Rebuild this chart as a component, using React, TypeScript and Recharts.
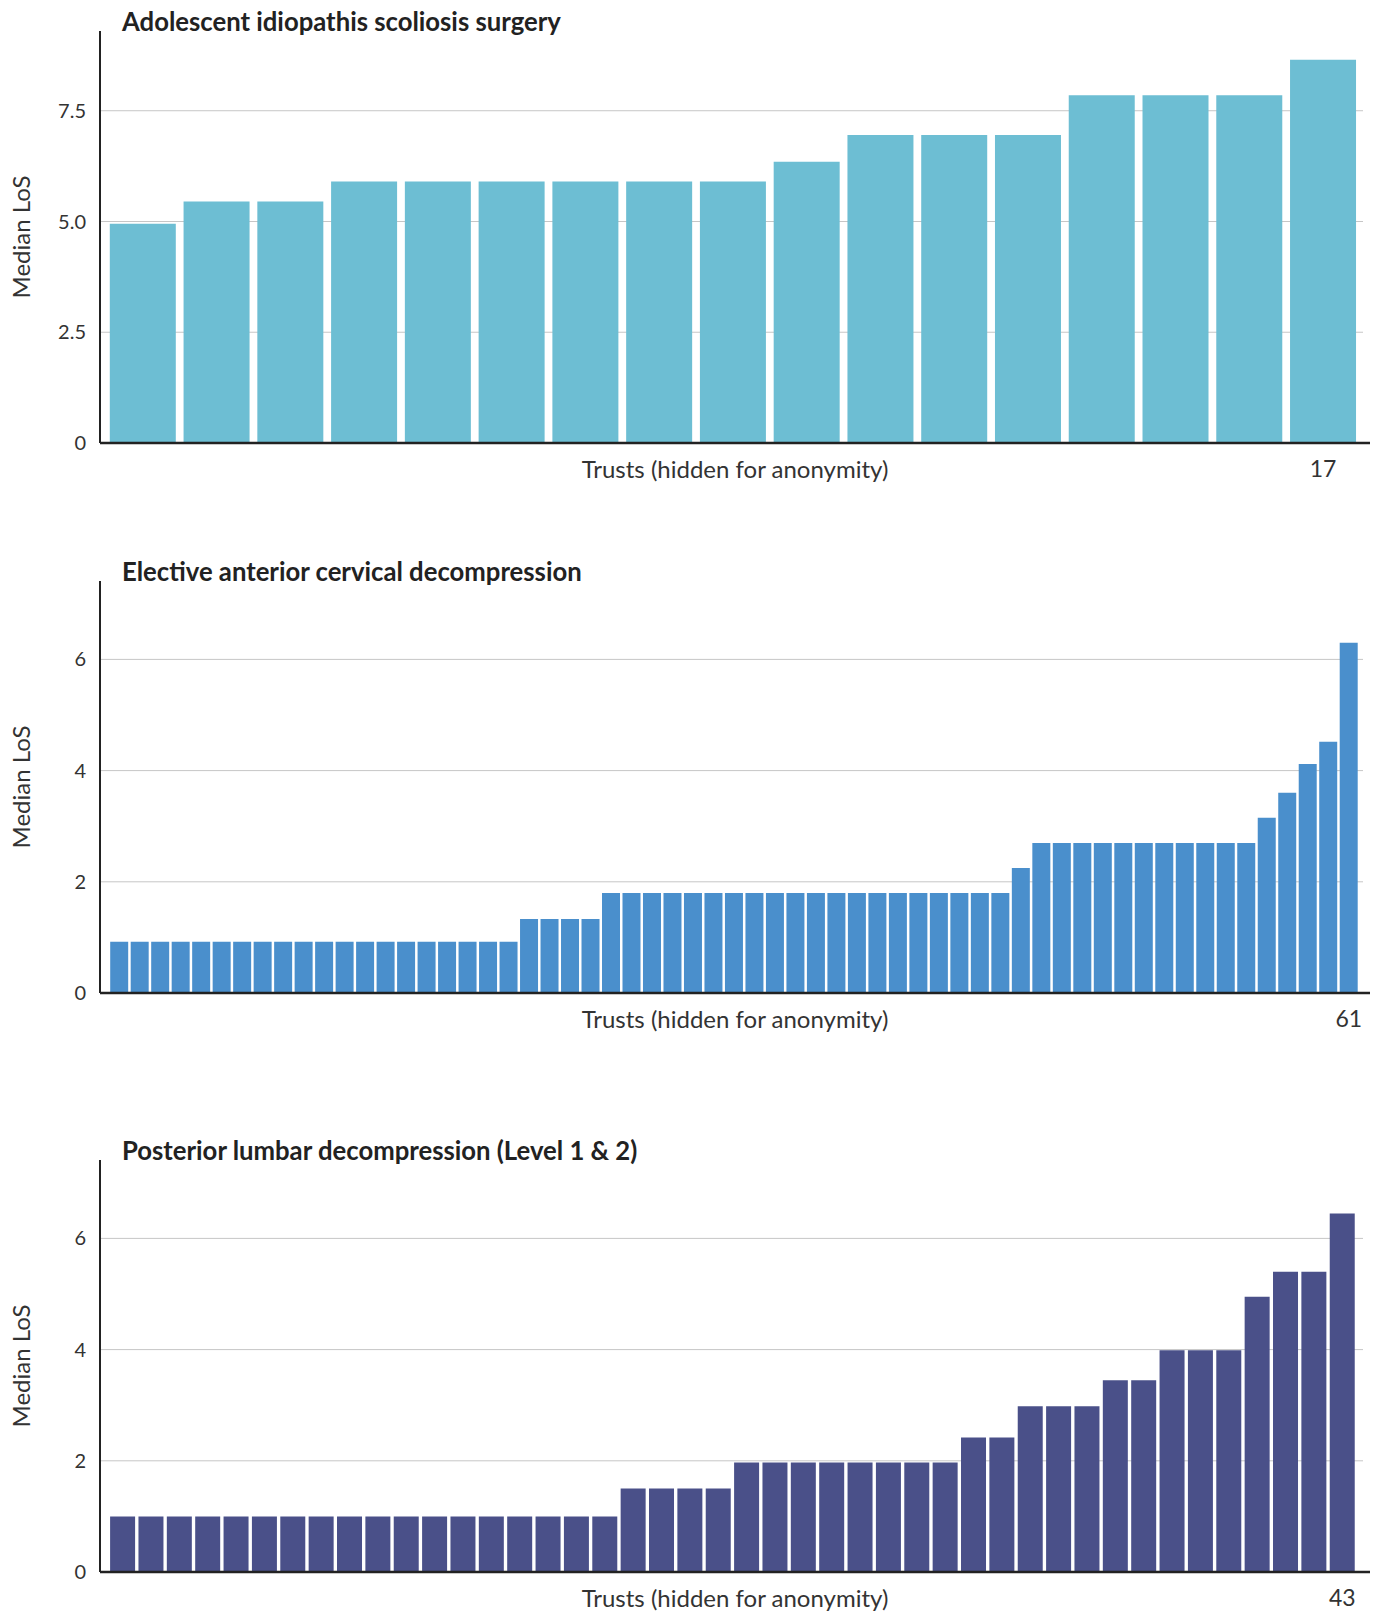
import React from "react";
import { BarChart, Bar, XAxis, YAxis, CartesianGrid, Label } from "recharts";

// median length of stay per trust, sorted ascending
const scoliosisLoS = [
  4.95, 5.45, 5.45, 5.9, 5.9, 5.9, 5.9, 5.9, 5.9, 6.35, 6.95, 6.95, 6.95, 7.85,
  7.85, 7.85, 8.65,
];
const cervicalLoS = [
  0.92, 0.92, 0.92, 0.92, 0.92, 0.92, 0.92, 0.92, 0.92, 0.92, 0.92, 0.92, 0.92,
  0.92, 0.92, 0.92, 0.92, 0.92, 0.92, 0.92, 1.33, 1.33, 1.33, 1.33, 1.8, 1.8,
  1.8, 1.8, 1.8, 1.8, 1.8, 1.8, 1.8, 1.8, 1.8, 1.8, 1.8, 1.8, 1.8, 1.8, 1.8,
  1.8, 1.8, 1.8, 2.25, 2.7, 2.7, 2.7, 2.7, 2.7, 2.7, 2.7, 2.7, 2.7, 2.7, 2.7,
  3.15, 3.6, 4.12, 4.52, 6.3,
];
const lumbarLoS = [
  1.0, 1.0, 1.0, 1.0, 1.0, 1.0, 1.0, 1.0, 1.0, 1.0, 1.0, 1.0, 1.0, 1.0, 1.0,
  1.0, 1.0, 1.0, 1.5, 1.5, 1.5, 1.5, 1.97, 1.97, 1.97, 1.97, 1.97, 1.97, 1.97,
  1.97, 2.42, 2.42, 2.98, 2.98, 2.98, 3.45, 3.45, 3.99, 3.99, 3.99, 4.95, 5.4,
  5.4, 6.45,
];

const chartTitles = [
  "Adolescent idiopathis scoliosis surgery",
  "Elective anterior cervical decompression",
  "Posterior lumbar decompression (Level 1 & 2)",
];
const lastTrustLabels = ["17", "61", "43"];

const scoliosisTicks = [0, 2.5, 5, 7.5];
const scoliosisTickLabels = ["0", "2.5", "5.0", "7.5"];
const otherTicks = [0, 2, 4, 6];
const otherTickLabels = ["0", "2", "4", "6"];

const PLOT_TOP = 31;

type Props = {
  title: string;
  values: number[];
  lastLabel: string;
  color: string;
  yMax: number;
  yTicks: number[];
  yTickLabels: string[];
  padLeft: number;
  padRight: number;
  gap: number;
  top: number;
};

function TrustChart(p: Props) {
  const data = p.values.map((v, i) => ({ trust: String(i + 1), los: v }));
  return (
    <div style={{ position: "absolute", left: 0, top: p.top, width: 1384, height: 483 }}>
      <BarChart
        width={1384}
        height={483}
        data={data}
        margin={{ top: PLOT_TOP, right: 14, left: 0, bottom: 0 }}
        barCategoryGap={p.gap}
      >
        <CartesianGrid
          vertical={false}
          horizontal={(g: any) =>
            g.y1 < PLOT_TOP + 2 ? (
              <g key={`h-${g.y1}`} />
            ) : (
              <line
                key={`h-${g.y1}`}
                x1={g.x1}
                x2={g.x2 - 7}
                y1={g.y1}
                y2={g.y2}
                stroke="#c6c6c6"
                strokeWidth={1}
              />
            )
          }
        />
        <XAxis
          dataKey="trust"
          interval={0}
          tickLine={false}
          tickSize={8}
          tickMargin={10}
          height={40}
          padding={{ left: p.padLeft, right: p.padRight }}
          axisLine={{ stroke: "#222", strokeWidth: 2.5 }}
          tick={{ fill: "#333", fontSize: 23 }}
          tickFormatter={(v: string, i: number) => (i === p.values.length - 1 ? p.lastLabel : "")}
        >
          <Label
            value="Trusts (hidden for anonymity)"
            position="center"
            dy={6}
            style={{ fill: "#333", fontSize: 24 }}
          />
        </XAxis>
        <YAxis
          width={100}
          domain={[0, p.yMax]}
          ticks={p.yTicks}
          tickLine={false}
          tickSize={6}
          tickMargin={8}
          axisLine={{ stroke: "#222", strokeWidth: 2 }}
          tick={{ fill: "#333", fontSize: 20 }}
          tickFormatter={(v: number, i: number) => p.yTickLabels[i]}
        >
          <Label
            value="Median LoS"
            angle={-90}
            position="center"
            dx={-29}
            style={{ fill: "#333", fontSize: 24, textAnchor: "middle" }}
          />
        </YAxis>
        <Bar dataKey="los" fill={p.color} isAnimationActive={false} />
      </BarChart>
      <svg
        width={1384}
        height={40}
        style={{ position: "absolute", left: 0, top: 0, pointerEvents: "none" }}
      >
        <text x={122} y={31} fontSize={25.7} fontWeight={700} fill="#222">
          {p.title}
        </text>
      </svg>
    </div>
  );
}

export default function App() {
  return (
    <div
      style={{
        position: "absolute",
        left: 0,
        top: 0,
        width: 1384,
        height: 1612,
        background: "#fff",
        fontFamily: "Lato, 'Open Sans', sans-serif",
        overflow: "hidden",
      }}
    >
      <TrustChart
        title={chartTitles[0]}
        values={scoliosisLoS}
        lastLabel={lastTrustLabels[0]}
        color="#6dbed3"
        yMax={9.3}
        yTicks={scoliosisTicks}
        yTickLabels={scoliosisTickLabels}
        padLeft={6}
        padRight={10}
        gap={3.8}
        top={0}
      />
      <TrustChart
        title={chartTitles[1]}
        values={cervicalLoS}
        lastLabel={lastTrustLabels[1]}
        color="#4a8fcc"
        yMax={7.41}
        yTicks={otherTicks}
        yTickLabels={otherTickLabels}
        padLeft={9}
        padRight={11}
        gap={1.2}
        top={550}
      />
      <TrustChart
        title={chartTitles[2]}
        values={lumbarLoS}
        lastLabel={lastTrustLabels[2]}
        color="#4a5089"
        yMax={7.41}
        yTicks={otherTicks}
        yTickLabels={otherTickLabels}
        padLeft={8.5}
        padRight={13.5}
        gap={1.6}
        top={1129}
      />
    </div>
  );
}
